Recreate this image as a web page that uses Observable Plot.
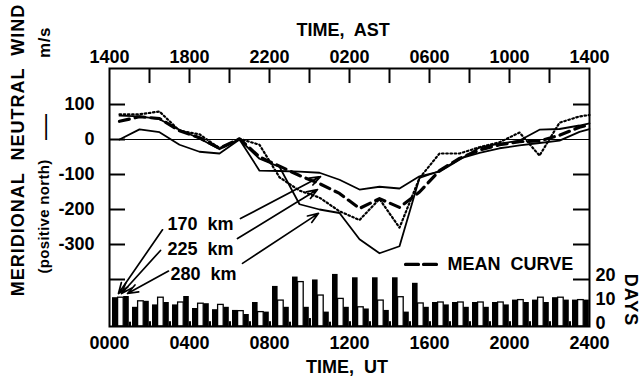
<!DOCTYPE html>
<html><head><meta charset="utf-8">
<script src="https://cdn.jsdelivr.net/npm/d3@7"></script>
<script src="https://cdn.jsdelivr.net/npm/@observablehq/plot@0.6"></script>
<style>
body{margin:0;background:#fff;}
#wrap{position:relative;width:644px;height:376px;overflow:hidden;font-family:"Liberation Sans",Arial,sans-serif;font-weight:bold;color:#000;}
#wrap svg{position:absolute;left:0;top:0;}
.lab{position:absolute;white-space:pre;transform-origin:center center;line-height:1;}
</style></head>
<body><div id="wrap"></div>
<script>
// ---- data ----
const hours = [0.5,1.5,2.5,3.5,4.5,5.5,6.5,7.5,8.5,9.5,10.5,11.5,12.5,13.5,14.5,15.5,16.5,17.5,18.5,19.5,20.5,21.5,22.5,23.5,24];
const wind170 = [68,66,58,28,3,-28,0,-89,-90,-92,-95,-115,-143,-135,-140,-105,-92,-58,-23,-12,-3,28,30,40,46];
const wind225 = [72,72,80,25,15,-25,2,-15,-108,-146,-166,-205,-230,-170,-252,-110,-40,-40,-22,-8,20,-46,48,66,70];
const wind280 = [0,29,21,-15,-35,-40,0,-55,-78,-185,-200,-210,-285,-325,-305,-110,-90,-55,-38,-25,-17,-10,-3,22,30];
const windMean = [52,65,60,25,5,-25,2,-50,-76,-103,-126,-154,-197,-169,-194,-150,-89,-54,-30,-15,-6,-4,12,35,42];

const barHours = d3.range(0,24);
const days170 = [12,8,9,9,7.5,7,6.7,10,16.7,20.6,19.4,21.7,20.3,20.3,20.3,18,10,10,10,10,11,11,12,11];
const days225 = [12,10.5,12,10,9.5,9,6.4,6,10.8,18.5,12.9,11.5,8,10.8,12.2,9.6,10,10,10,10,11,12,12,11];
const days280 = [12.5,10.5,10,12.5,9.5,8,5,6,8,8,6,8,7.3,6.7,6,8,9,8,8,9,10,10,11,11];
const daysSmall = [1.8,2,2,2,2,2,2,2,1.8,3.3,1.8,2,2,2,2,2,2,2,2,2,2,2,2,2];

const utTicks = [0,4,8,12,16,20,24];
const utLabels = ["0000","0400","0800","1200","1600","2000","2400"];
const astLabels = ["1400","1800","2200","0200","0600","1000","1400"];
const windTicks = [100,0,-100,-200,-300];
const innerTicksLeft = [100,0,-100,-200,-300,-400];
const innerTicksRight = [100,-100,-200,-300,-400];
const topTicks = [2,4,6,8,10,12,14,16,18,20,22];
const dayTicks = [0,10,20];

// annotations (hour, wind value)
const altLabels = [
  {t:"170  km", h:2.9, v:-241},
  {t:"225  km", h:2.9, v:-313},
  {t:"280  km", h:3.05, v:-384}
];
const arrowsToCurves = [
  {h1:6.55,v1:-226,h2:10.55,v2:-106},
  {h1:6.4,v1:-283,h2:10.4,v2:-143},
  {h1:6.65,v1:-354,h2:10.45,v2:-211}
];
const arrowsToBars = [
  {h1:2.65,v1:-258,h2:0.45,v2:-440},
  {h1:2.55,v1:-317,h2:0.6,v2:-440},
  {h1:2.95,v1:-376,h2:0.9,v2:-440}
];
const legendDash = [{h:14.8,v:-357},{h:16.45,v:-357}];
const legendText = [{t:"MEAN  CURVE", h:16.9, v:-356}];

// ---- layout ----
const W=644,H=376, mT=68, mB=50, mL=109, mR=55;
const yTop = 202.9, yBot = -534.3;
const font = "Liberation Sans, Arial, sans-serif";
const style = {fontFamily:font, fontSize:"18px", fontWeight:"bold", background:"transparent", color:"#000", overflow:"visible"};

const toRows = (ys) => hours.map((h,i)=>({h, v:ys[i]}));

const plotA = Plot.plot({
  width:W, height:H, marginTop:mT, marginBottom:mB, marginLeft:mL, marginRight:mR,
  style,
  x:{domain:[0,24]},
  y:{domain:[yBot,yTop]},
  marks:[
    Plot.frame({strokeWidth:2}),
    Plot.ruleY([0],{strokeWidth:1.2}),
    Plot.ruleY(innerTicksLeft,{x1:0,x2:0.8,strokeWidth:2}),
    Plot.ruleY(innerTicksRight,{x1:23.2,x2:24,strokeWidth:2}),
    Plot.ruleX(topTicks,{y1:yTop,y2:yTop-43,strokeWidth:2}),
    Plot.axisY({ticks:windTicks, tickSize:0, tickPadding:15, tickFormat:d=>d<0?"-"+Math.abs(d):String(d)}),
    Plot.axisX({anchor:"bottom", ticks:utTicks, tickSize:0, tickPadding:10, tickFormat:d=>utLabels[utTicks.indexOf(d)], label:null}),
    Plot.axisX({anchor:"top", ticks:utTicks, tickSize:0, tickPadding:6, tickFormat:d=>astLabels[utTicks.indexOf(d)], label:null}),
    Plot.line(toRows(wind170),{x:"h",y:"v",stroke:"#000",strokeWidth:1.8}),
    Plot.line(toRows(wind280),{x:"h",y:"v",stroke:"#000",strokeWidth:1.8}),
    Plot.line(toRows(wind225),{x:"h",y:"v",stroke:"#000",strokeWidth:2.2,strokeDasharray:"1.6,2.6"}),
    Plot.line(toRows(windMean),{x:"h",y:"v",stroke:"#000",strokeWidth:3.2,strokeDasharray:"10,6"}),
    Plot.arrow(arrowsToCurves,{x1:"h1",y1:"v1",x2:"h2",y2:"v2",stroke:"#000",strokeWidth:1.7,headLength:10,headAngle:40,bend:0}),
    Plot.arrow(arrowsToBars,{x1:"h1",y1:"v1",x2:"h2",y2:"v2",stroke:"#000",strokeWidth:1.7,headLength:10,headAngle:40,bend:0}),
    Plot.text(altLabels,{x:"h",y:"v",text:"t",textAnchor:"start",fontSize:18,fontWeight:"bold"}),
    Plot.line(legendDash,{x:"h",y:"v",stroke:"#000",strokeWidth:3.2,strokeDasharray:"13,5"}),
    Plot.text(legendText,{x:"h",y:"v",text:"t",textAnchor:"start",fontSize:18,fontWeight:"bold"})
  ]
});

const barRows = barHours.flatMap((h,i)=>[
  {h, d:days170[i], x1:h+0.15, x2:h+0.43, kind:"b"},
  {h, d:days225[i], x1:h+0.43, x2:h+0.71, kind:"w"},
  {h, d:days280[i], x1:h+0.71, x2:h+0.99, kind:"b"},
  {h, d:daysSmall[i], x1:h+0.99, x2:h+1.1, kind:"b"}
]);

const plotB = Plot.plot({
  width:W, height:H, marginTop:mT, marginBottom:mB, marginLeft:mL, marginRight:mR,
  style,
  x:{domain:[0,24], axis:null},
  y:{domain:[0,(H-mT-mB)/2.4], axis:null},
  marks:[
    Plot.rectY(barRows.filter(r=>r.kind==="b"),{x1:"x1",x2:"x2",y1:0,y2:"d",fill:"#000",clip:true}),
    Plot.rectY(barRows.filter(r=>r.kind==="w"),{x1:"x1",x2:"x2",y1:0,y2:"d",fill:"#fff",stroke:"#000",strokeWidth:1.3,clip:true}),
    Plot.text(dayTicks,{x:24,y:d=>d,text:d=>String(d),dx:6,dy:-3,textAnchor:"start",fontSize:18,fontWeight:"bold"})
  ]
});

const wrap = document.getElementById("wrap");
wrap.appendChild(plotB);
wrap.appendChild(plotA);

function label(text, cx, cy, size, rot, extra){
  const d = document.createElement("div");
  d.className = "lab";
  d.textContent = text;
  d.style.fontSize = size+"px";
  Object.assign(d.style, extra||{});
  wrap.appendChild(d);
  const w = d.offsetWidth, h = d.offsetHeight;
  d.style.left = (cx - w/2)+"px";
  d.style.top = (cy - h/2)+"px";
  if (rot) d.style.transform = `rotate(${rot}deg)`;
  return d;
}
label("TIME,  AST", 343, 30, 18, 0);
label("TIME,  UT", 347, 367, 18, 0);
label("MERIDIONAL  NEUTRAL  WIND", 18, 150, 18, -90, {letterSpacing:"1px"});
label("(positive north)", 44, 216, 15, -90, {letterSpacing:"0.3px"});
label("\u2014", 44, 127, 26, -90, {fontWeight:"normal"});
label("m/s", 44, 42, 17, -90, {letterSpacing:"0.5px"});
label("DAYS", 631, 300, 18, 90, {letterSpacing:"1px"});
</script></body></html>
